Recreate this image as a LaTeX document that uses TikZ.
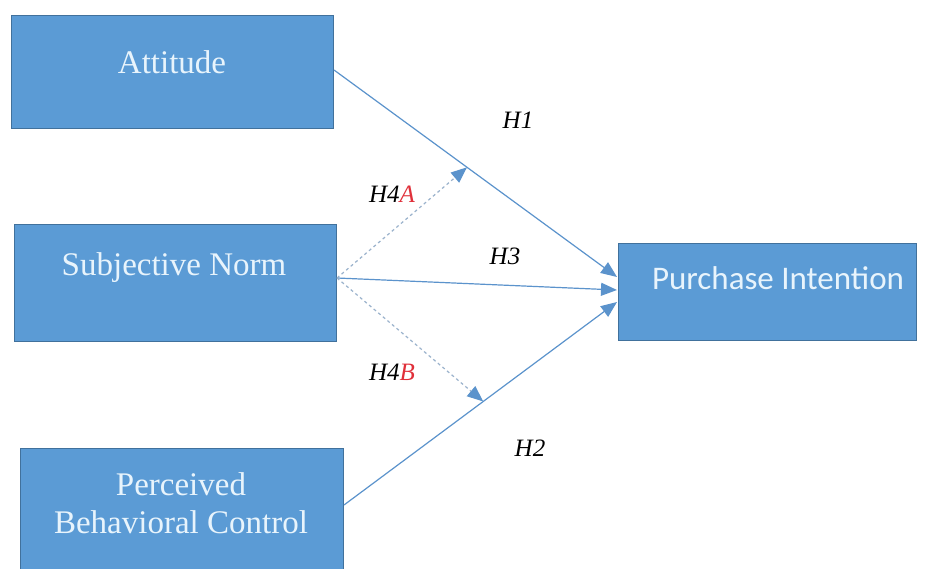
\documentclass[tikz,border=0pt]{standalone}
\usepackage{fontspec}
\setmainfont{Liberation Serif}
\newfontfamily\calib{Carlito}
\usetikzlibrary{arrows.meta,calc}
\definecolor{boxfill}{HTML}{5B9BD5}
\definecolor{boxline}{HTML}{41719C}
\definecolor{boxtext}{HTML}{E8F4FC}
\definecolor{linkcol}{HTML}{5B93CC}
\definecolor{dashcol}{HTML}{9AB2CC}
\definecolor{hred}{HTML}{E0303A}
\tikzset{
  box/.style={draw=boxline, line width=1.2pt, fill=boxfill, inner sep=0pt, anchor=north west},
  boxlabel/.style={text=boxtext, font=\fontsize{33}{38}\selectfont, align=center, inner sep=0pt},
  link/.style={draw=linkcol, line width=1.2pt, -{Triangle[length=16pt,width=13pt]}},
  dlink/.style={draw=dashcol, line width=1.2pt, dash pattern=on 3pt off 3pt, -{Triangle[length=16pt,width=13pt,color=linkcol,fill=linkcol]}},
  hlab/.style={font=\fontsize{25}{28}\selectfont\itshape, inner sep=0pt}
}
\begin{document}
\begin{tikzpicture}[x=1pt,y=-1pt]
\clip (0,0) rectangle (926,569);
\fill[white] (0,0) rectangle (926,569);
% boxes
\node[box, minimum width=322pt, minimum height=113pt] (att) at (11,15) {};
\node[box, minimum width=322pt, minimum height=117pt] (sn) at (14,224) {};
\node[box, minimum width=323pt, minimum height=140pt] (pbc) at (20,448) {};
\node[box, minimum width=298pt, minimum height=97pt] (pi) at (618,243) {};
% box texts
\node[boxlabel] (att-t) at (172,62) {Attitude};
\node[boxlabel] (sn-t) at (174,268) {Subjective Norm};
\node[boxlabel] (pbc-t) at (181,503) {Perceived\\Behavioral Control};
\node[boxlabel, font=\calib\fontsize{33}{38}\selectfont] (pi-t) at (778,278) {Purchase Intention};
% connector end points
\coordinate (a1) at (334,70);
\coordinate (s1) at (337,278);
\coordinate (p1) at (344,505);
\coordinate (e1) at (617,277);
\coordinate (e3) at (617,290);
\coordinate (e2) at (617,302);
\coordinate (m1) at ($(a1)!0.47!(e1)$);
\coordinate (m2) at ($(p1)!0.51!(e2)$);
% connectors
\draw[link] (a1) -- (e1);
\draw[link] (s1) -- (e3);
\draw[link] (p1) -- (e2);
\draw[dlink] (s1) -- (m1);
\draw[dlink] (s1) -- (m2);
% labels
\node[hlab] (h1) at (518,120) {H1};
\node[hlab] (h3) at (505,256) {H3};
\node[hlab] (h2) at (530,448) {H2};
\node[hlab] (h4a) at (392,194) {H4\textcolor{hred}{A}};
\node[hlab] (h4b) at (392,372) {H4\textcolor{hred}{B}};
\end{tikzpicture}
\end{document}
